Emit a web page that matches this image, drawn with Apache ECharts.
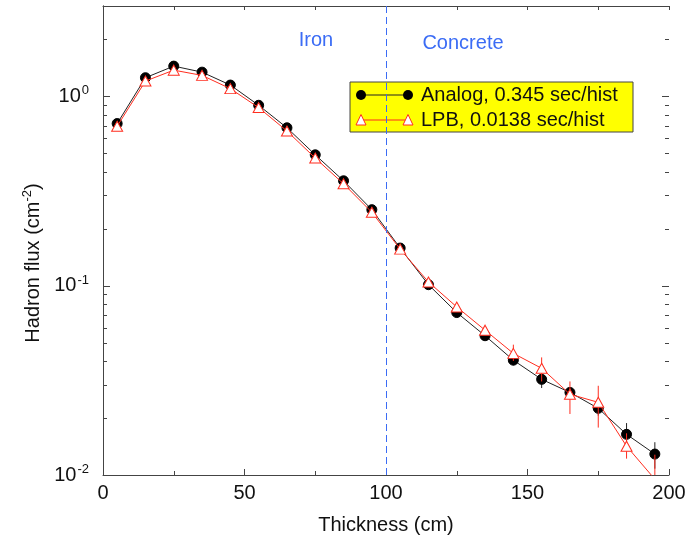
<!DOCTYPE html>
<html>
<head>
<meta charset="utf-8">
<script src="https://cdn.jsdelivr.net/npm/echarts@6/dist/echarts.min.js"></script>
<style>
  html, body { margin: 0; padding: 0; background: #fff; }
  #chart { width: 689px; height: 540px; }
</style>
</head>
<body>
<div id="chart"></div>
<script>
// Depth into the shield (cm), bin centres
const thickness = [5, 15, 25, 35, 45, 55, 65, 75, 85, 95, 105, 115, 125, 135, 145, 155, 165, 175, 185, 195];

// Hadron flux per source particle (cm^-2)
const analogFlux = [0.718, 1.254, 1.444, 1.342, 1.147, 0.897, 0.682, 0.491, 0.358, 0.252,
                    0.158, 0.1012, 0.0721, 0.0544, 0.0404, 0.0320, 0.0273, 0.0225, 0.0164, 0.0129];
const lpbFlux    = [0.695, 1.204, 1.375, 1.290, 1.098, 0.872, 0.656, 0.472, 0.345, 0.244,
                    0.156, 0.1046, 0.0772, 0.0582, 0.0439, 0.0366, 0.0267, 0.0242, 0.0142, 0.0095];

// Statistical error bars: [thickness, low, high]
const analogErr = [[135, 0.0530, 0.0560], [145, 0.0380, 0.0430], [155, 0.0288, 0.0348],
                   [165, 0.0262, 0.0285], [175, 0.0206, 0.0251], [185, 0.0144, 0.0188],
                   [195, 0.0108, 0.0149]];
const lpbErr    = [[145, 0.0400, 0.0488], [155, 0.0312, 0.0418], [165, 0.0210, 0.0312],
                   [175, 0.0178, 0.0296], [185, 0.0122, 0.0166], [195, 0.0090, 0.0128]];

// Log-axis tick positions
const majorY = [0.01, 0.1, 1];
const minorY = [0.02, 0.03, 0.04, 0.05, 0.06, 0.07, 0.08, 0.09,
                0.2, 0.3, 0.4, 0.5, 0.6, 0.7, 0.8, 0.9, 2, 3];

const legendNames = ['Analog, 0.345 sec/hist', 'LPB, 0.0138 sec/hist'];
const regionNames = ['Iron', 'Concrete'];
const boundary = 100;

const FONT = 'Liberation Sans, Arial, Helvetica, sans-serif';
const BLACK = '#222';
const RED = '#ff2d1f';
const FRAME = '#444';
const BLUE = '#3b6cf5';
const X_MIN = 0, X_MAX = 200;
const Y_MIN = 0.01, Y_MAX = 3;

const chart = echarts.init(document.getElementById('chart'), null, { renderer: 'canvas' });

function errItem(color) {
  return function (params, api) {
    const x = api.value(0);
    const lo = Math.max(api.value(1), Y_MIN);
    const hi = Math.min(api.value(2), Y_MAX);
    const p1 = api.coord([x, lo]);
    const p2 = api.coord([x, hi]);
    return {
      type: 'line',
      shape: { x1: p1[0], y1: p1[1], x2: p2[0], y2: p2[1] },
      style: { stroke: color, lineWidth: 1 }
    };
  };
}

// The last LPB bin falls below the plotted range: keep its line, hide its marker
const lpbData = thickness.map((x, i) => lpbFlux[i] < Y_MIN
  ? { value: [x, lpbFlux[i]], symbol: 'none' }
  : [x, lpbFlux[i]]);

const option = {
  animation: false,
  backgroundColor: '#fff',
  grid: { left: 103, right: 20, top: 6, bottom: 62 },
  xAxis: [{
    type: 'value', min: X_MIN, max: X_MAX, interval: 50, position: 'bottom',
    name: 'Thickness (cm)', nameLocation: 'middle', nameGap: 40,
    nameTextStyle: { fontFamily: FONT, fontSize: 20, color: '#111' },
    axisLine: { show: true, lineStyle: { color: FRAME, width: 1 } },
    axisTick: { show: true, inside: true, length: 6, lineStyle: { color: FRAME } },
    minorTick: { show: true, splitNumber: 2, length: 4, lineStyle: { color: FRAME } },
    axisLabel: { fontFamily: FONT, fontSize: 20, color: '#111', margin: 8 },
    splitLine: { show: false }
  }, {
    type: 'value', min: X_MIN, max: X_MAX, interval: 50, position: 'top',
    axisLine: { show: true, lineStyle: { color: FRAME, width: 1 } },
    axisTick: { show: true, inside: true, length: 4, lineStyle: { color: FRAME } },
    minorTick: { show: true, splitNumber: 2, length: 4, lineStyle: { color: FRAME } },
    axisLabel: { show: false },
    splitLine: { show: false }
  }],
  yAxis: [{
    type: 'log', logBase: 10, min: Y_MIN, max: Y_MAX, position: 'left',
    axisLine: { show: true, lineStyle: { color: FRAME, width: 1 } },
    axisTick: { show: false },
    axisLabel: {
      margin: 14,
      formatter: function (v) {
        const e = Math.round(Math.log10(v));
        if (Math.abs(Math.log10(v) - e) > 1e-6) return '';
        return '{b|10}{s|' + e + '}';
      },
      rich: {
        b: { fontFamily: FONT, fontSize: 20, color: '#111', lineHeight: 24 },
        s: { fontFamily: FONT, fontSize: 13, color: '#111', verticalAlign: 'top', lineHeight: 12, padding: [0, 0, 0, 1] }
      }
    },
    splitLine: { show: false }
  }, {
    type: 'log', logBase: 10, min: Y_MIN, max: Y_MAX, position: 'right',
    axisLine: { show: true, lineStyle: { color: FRAME, width: 1 } },
    axisTick: { show: false },
    axisLabel: { show: false },
    splitLine: { show: false }
  }],
  graphic: [
    // Legend box
    { type: 'rect', z: 1, shape: { x: 350, y: 82, width: 283, height: 50 },
      style: { fill: '#ffff00', stroke: '#444', lineWidth: 1 } },
    { type: 'line', z: 2, shape: { x1: 361, y1: 95, x2: 408, y2: 95 }, style: { stroke: BLACK, lineWidth: 1 } },
    { type: 'circle', z: 3, shape: { cx: 361, cy: 95, r: 5 }, style: { fill: '#000' } },
    { type: 'circle', z: 3, shape: { cx: 408, cy: 95, r: 5 }, style: { fill: '#000' } },
    { type: 'text', z: 3, x: 421, y: 95,
      style: { text: legendNames[0], fontFamily: FONT, fontSize: 20, fill: '#111', verticalAlign: 'middle' } },
    { type: 'line', z: 2, shape: { x1: 361, y1: 120, x2: 408, y2: 120 }, style: { stroke: RED, lineWidth: 1 } },
    { type: 'polygon', z: 3, shape: { points: [[361, 114.5], [366, 125], [356, 125]] },
      style: { fill: '#fff', stroke: RED, lineWidth: 1 } },
    { type: 'polygon', z: 3, shape: { points: [[408, 114.5], [413, 125], [403, 125]] },
      style: { fill: '#fff', stroke: RED, lineWidth: 1 } },
    { type: 'text', z: 3, x: 421, y: 120,
      style: { text: legendNames[1], fontFamily: FONT, fontSize: 20, fill: '#111', verticalAlign: 'middle' } },
    // Material regions
    { type: 'text', z: 3, x: 316, y: 40,
      style: { text: regionNames[0], fontFamily: FONT, fontSize: 20, fill: BLUE, align: 'center', verticalAlign: 'middle' } },
    { type: 'text', z: 3, x: 463, y: 43,
      style: { text: regionNames[1], fontFamily: FONT, fontSize: 20, fill: BLUE, align: 'center', verticalAlign: 'middle' } },
    // Y axis title
    { type: 'text', z: 3, x: 33, y: 263, rotation: Math.PI / 2,
      style: {
        text: '{t|Hadron flux (cm}{s|-2}{t|)}',
        align: 'center', verticalAlign: 'middle',
        rich: {
          t: { fontFamily: FONT, fontSize: 20, fill: '#111', lineHeight: 24 },
          s: { fontFamily: FONT, fontSize: 13, fill: '#111', verticalAlign: 'top', lineHeight: 12 }
        }
      } }
  ],
  series: [
    {
      name: legendNames[0], type: 'line', z: 3,
      data: thickness.map((x, i) => [x, analogFlux[i]]),
      symbol: 'circle', symbolSize: 10,
      lineStyle: { color: BLACK, width: 1 },
      itemStyle: { color: '#000', borderColor: '#000' },
      markLine: {
        silent: true, symbol: 'none', z: 5,
        label: { show: false },
        lineStyle: { color: BLUE, type: [7, 4], width: 1 },
        data: [{ xAxis: boundary }]
      }
    },
    {
      name: 'analogErr', type: 'custom', z: 3, data: analogErr,
      renderItem: errItem(BLACK), encode: { x: 0, y: [1, 2] }
    },
    {
      name: legendNames[1], type: 'line', z: 4, clip: true,
      data: lpbData,
      symbol: 'triangle', symbolSize: [11, 10],
      lineStyle: { color: RED, width: 1 },
      itemStyle: { color: '#fff', borderColor: RED, borderWidth: 1 }
    },
    {
      name: 'lpbErr', type: 'custom', z: 4, data: lpbErr,
      renderItem: errItem(RED), encode: { x: 0, y: [1, 2] }
    }
  ]
};

chart.setOption(option);

// Inward log ticks on both vertical edges, placed through the axis scales
const zr = chart.getZr();
function addYTick(v, len) {
  const finder = { xAxisIndex: 0, yAxisIndex: 0 };
  const pl = chart.convertToPixel(finder, [X_MIN, v]);
  const pr = chart.convertToPixel(finder, [X_MAX, v]);
  const y = Math.round(pl[1]) + 0.5;
  [[pl[0], pl[0] + len], [pr[0], pr[0] - len]].forEach(function (seg) {
    zr.add(new echarts.graphic.Line({
      z: 100,
      shape: { x1: seg[0], y1: y, x2: seg[1], y2: y },
      style: { stroke: FRAME, lineWidth: 1 },
      silent: true
    }));
  });
}
majorY.forEach(v => addYTick(v, 7));
minorY.forEach(v => addYTick(v, 4));
</script>
</body>
</html>
